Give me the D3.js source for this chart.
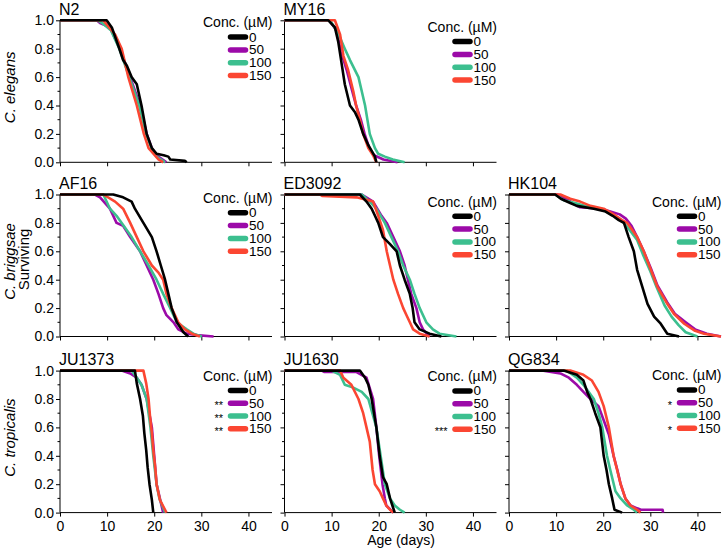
<!DOCTYPE html>
<html><head><meta charset="utf-8">
<script src="https://cdn.jsdelivr.net/npm/d3@7/dist/d3.min.js"></script>
<style>
body{margin:0;background:#fff}
svg{display:block}
text{font-family:"Liberation Sans",Arial,Helvetica,sans-serif;fill:#000}
</style>
</head><body>
<svg id="chart" width="727" height="554"></svg>
<script>
// ---------- data ----------
const concentrations = ["0", "50", "100", "150"];
const strains = ["N2", "MY16", "AF16", "ED3092", "HK104", "JU1373", "JU1630", "QG834"];
const species = ["C. elegans", "C. briggsae", "C. tropicalis"];
const xTicks = [0, 10, 20, 30, 40];
const yTicks = [0.0, 0.2, 0.4, 0.6, 0.8, 1.0];
const xLabel = "Age (days)";
const yLabel = "Surviving";
const legendTitle = "Conc. (\u00b5M)";

// [day, fraction surviving]
const N2_0   = [[0,1],[9.9,1],[11,0.95],[12.6,0.8],[13.4,0.72],[14.2,0.68],[15.2,0.6],[16.3,0.55],[17.3,0.4],[18.4,0.2],[19.5,0.1],[20.5,0.06],[22,0.05],[23,0.04],[23.4,0.02],[26.5,0.01],[26.9,0]];
const N2_50  = [[0,1],[7.8,1],[8.5,0.98],[10.6,0.95],[12.7,0.8],[14.9,0.6],[17,0.4],[18.4,0.2],[19.5,0.1],[20.5,0.05],[22.6,0]];
const N2_100 = [[0,1],[8,1],[9,0.98],[10.8,0.93],[12.6,0.8],[14.7,0.6],[16.8,0.4],[18.3,0.2],[19.4,0.1],[20.5,0.04],[22.3,0]];
const N2_150 = [[0,1],[9.2,1],[11.7,0.9],[13.1,0.8],[14.5,0.6],[16.3,0.4],[17.8,0.2],[18.8,0.1],[20.9,0.02],[21.9,0]];

const MY16_0   = [[0,1],[9.3,1],[10.7,0.95],[11.4,0.85],[12.1,0.7],[12.8,0.55],[13.9,0.4],[15,0.35],[15.7,0.3],[16.7,0.2],[17.8,0.12],[18.5,0.08],[19.2,0.04],[19.5,0]];
const MY16_50  = [[0,1],[9.5,1],[11,0.93],[12,0.78],[13.2,0.65],[14.4,0.5],[15.2,0.4],[16.2,0.3],[17,0.2],[18,0.1],[19,0.05],[21,0.02],[24,0]];
const MY16_100 = [[0,1],[9.7,1],[11.5,0.9],[12.8,0.8],[13.9,0.72],[15.7,0.6],[16.4,0.5],[17.1,0.4],[18.1,0.2],[19.2,0.1],[19.9,0.06],[21.3,0.04],[23,0.02],[25.5,0]];
const MY16_150 = [[0,1],[10.7,1],[11.8,0.9],[12.5,0.75],[13.5,0.65],[14.6,0.5],[15.2,0.4],[16,0.3],[16.7,0.2],[17.8,0.1],[18.8,0.05],[19.5,0]];

const AF16_0   = [[0,1],[11.3,1],[13.4,0.98],[15.2,0.95],[15.9,0.9],[17.7,0.8],[19.5,0.7],[20.5,0.6],[21.4,0.5],[22.3,0.4],[23,0.3],[23.7,0.2],[24.8,0.1],[26.2,0.03],[27.2,0]];
const AF16_50  = [[0,1],[7.4,1],[8.5,0.98],[10.6,0.9],[12,0.8],[13.4,0.78],[14.9,0.7],[17,0.6],[18.4,0.5],[19.8,0.4],[20.9,0.3],[21.9,0.2],[22.6,0.15],[24.1,0.1],[25.1,0.05],[26.9,0.02],[29,0.01],[32.6,0]];
const AF16_100 = [[0,1],[9.2,1],[10.6,0.9],[12,0.85],[13.1,0.8],[15.2,0.7],[17,0.6],[18.8,0.5],[20.5,0.4],[21.9,0.3],[23.4,0.2],[24.8,0.1],[26.9,0.05],[28.3,0.02],[30.1,0]];
const AF16_150 = [[0,1],[9.2,1],[11.7,0.95],[13.4,0.9],[14.9,0.8],[16.3,0.7],[17.7,0.6],[19.5,0.5],[20.9,0.45],[21.9,0.4],[22.6,0.3],[23.7,0.2],[25.1,0.1],[26.5,0.05],[28,0.02],[29.7,0]];

const ED3092_0   = [[0,1],[16,1],[17.4,0.95],[18.5,0.9],[19.2,0.85],[19.9,0.8],[20.9,0.7],[22.4,0.65],[23.8,0.6],[24.5,0.5],[25.5,0.4],[26.6,0.3],[27.2,0.2],[27.6,0.1],[28.7,0.05],[30.8,0.02],[33.3,0]];
const ED3092_50  = [[0,1],[16.4,1],[18.8,0.95],[20.6,0.85],[21.7,0.8],[23.1,0.7],[24.5,0.6],[25.5,0.5],[26.2,0.4],[26.9,0.3],[28,0.2],[28.7,0.1],[29.4,0.05],[30.8,0]];
const ED3092_100 = [[0,1],[16.4,1],[18.1,0.95],[19.5,0.9],[21.3,0.8],[22.7,0.7],[24.1,0.6],[25.2,0.5],[26.6,0.4],[27.6,0.3],[28.7,0.2],[30.1,0.1],[31.5,0.05],[32.9,0.02],[36.5,0]];
const ED3092_150 = [[0,1],[7.5,1],[8,0.99],[15.3,0.98],[18.8,0.95],[19.9,0.85],[20.9,0.75],[21.7,0.6],[22.4,0.5],[23.1,0.4],[24.1,0.3],[25.2,0.2],[25.9,0.15],[26.6,0.1],[27.3,0.05],[28.7,0.02],[30.8,0]];

const HK104_0   = [[0,1],[9.8,1],[11,0.97],[13,0.94],[14.4,0.92],[18,0.9],[20.5,0.88],[22,0.85],[23.3,0.82],[24.4,0.8],[25.4,0.7],[26.5,0.6],[27.2,0.47],[28.3,0.35],[29.4,0.23],[30.8,0.14],[32.2,0.09],[33.6,0.02],[36.1,0]];
const HK104_50  = [[0,1],[10.2,1],[12.3,0.97],[13.5,0.94],[15.1,0.91],[19.5,0.9],[21.5,0.88],[23.5,0.86],[24.8,0.83],[26,0.78],[27.2,0.7],[28.6,0.6],[30.1,0.48],[31.5,0.36],[33.6,0.24],[35.2,0.16],[37.5,0.1],[39.5,0.05],[42,0.02],[45,0]];
const HK104_100 = [[0,1],[9.8,1],[11.6,0.96],[14,0.94],[16,0.92],[20,0.89],[22.5,0.85],[24.4,0.8],[25.6,0.75],[27.2,0.68],[28.4,0.58],[30,0.46],[31.3,0.35],[33,0.22],[34.5,0.14],[36,0.08],[37.5,0.03],[40,0]];
const HK104_150 = [[0,1],[10.9,1],[13,0.97],[15.1,0.95],[17.3,0.92],[20.1,0.9],[22.2,0.86],[24,0.82],[25.1,0.8],[27.2,0.7],[28.6,0.6],[30.1,0.47],[31.5,0.35],[33.6,0.23],[35,0.16],[37.2,0.09],[39.5,0.04],[41.4,0.02],[45,0]];

const JU1373_0   = [[0,1],[15.9,1],[16.3,0.91],[17,0.8],[17.6,0.68],[17.9,0.56],[18.3,0.44],[18.6,0.32],[19,0.2],[19.5,0.09],[19.8,0]];
const JU1373_50  = [[0,1],[13.1,1],[14.9,0.98],[16.3,0.95],[17.3,0.9],[18.4,0.8],[19.5,0.6],[20,0.4],[20.5,0.2],[21.2,0.1],[21.9,0]];
const JU1373_100 = [[0,1],[15.2,1],[16.3,0.95],[17.3,0.9],[18.4,0.8],[19.2,0.6],[19.8,0.4],[20.5,0.2],[21.1,0.1],[22.3,0]];
const JU1373_150 = [[0,1],[17.7,1],[18.3,0.91],[18.8,0.8],[19.1,0.68],[19.5,0.56],[19.8,0.44],[20.2,0.32],[20.5,0.2],[21.2,0.09],[22.6,0]];

const JU1630_0   = [[0,1],[16,1],[17.1,0.95],[17.8,0.9],[18.5,0.8],[19.5,0.6],[20.2,0.4],[20.9,0.25],[21.7,0.2],[22.4,0.1],[22.9,0.05],[23.4,0]];
const JU1630_50  = [[0,1],[7.9,1],[8.5,0.99],[15.3,0.99],[17.4,0.95],[18.8,0.8],[19.5,0.6],[20.1,0.4],[20.8,0.2],[21.3,0.1],[21.6,0.05],[23.1,0]];
const JU1630_100 = [[0,1],[10,1],[11.8,0.97],[12.8,0.9],[14.6,0.88],[16.4,0.85],[17.8,0.8],[19.5,0.6],[20.4,0.4],[21.3,0.2],[22.4,0.1],[23.4,0.05],[24.5,0.02],[25.5,0]];
const JU1630_150 = [[0,1],[11.8,1],[12.5,0.95],[14.2,0.9],[15.7,0.8],[16.7,0.7],[17.4,0.6],[18.1,0.5],[18.7,0.3],[19.2,0.2],[20.2,0.15],[20.9,0.1],[21.6,0.05],[22.4,0.02],[23.1,0]];

const QG834_0   = [[0,1],[11.6,1],[14.4,0.97],[15.8,0.93],[16.6,0.85],[17.3,0.8],[18.3,0.7],[19.4,0.6],[20.1,0.4],[20.7,0.3],[21.2,0.2],[21.9,0.1],[22.4,0.02],[24,0]];
const QG834_50  = [[0,1],[7.3,1],[10.9,0.98],[12.7,0.95],[14.4,0.9],[15.8,0.85],[17.3,0.8],[19,0.75],[20.1,0.65],[21.2,0.55],[22.2,0.4],[23,0.3],[23.7,0.2],[24.7,0.1],[25.8,0.05],[27.2,0.03],[28,0.02],[32.6,0.02],[32.7,0]];
const QG834_100 = [[0,1],[12.3,1],[14.4,0.95],[15.8,0.9],[18,0.8],[19,0.7],[19.8,0.6],[20.8,0.4],[21.5,0.3],[22.6,0.15],[23.7,0.1],[25.1,0.05],[26.5,0.02],[27.2,0]];
const QG834_150 = [[0,1],[13,1],[15.8,0.97],[17.6,0.93],[19,0.85],[20.1,0.75],[21.2,0.6],[22.2,0.4],[23.7,0.2],[24.7,0.1],[25.8,0.05],[27.2,0.02],[27.9,0]];

// significance marks next to legend entries
const JU1373_stars = ["", "**", "**", "**"];
const JU1630_stars = ["", "", "", "***"];
const QG834_stars  = ["", "*", "", "*"];

// ---------- table built from the arrays ----------
const panels = [
  {name:"N2",     series:[N2_0,N2_50,N2_100,N2_150],             stars:["","","",""]},
  {name:"MY16",   series:[MY16_0,MY16_50,MY16_100,MY16_150],     stars:["","","",""]},
  {name:"AF16",   series:[AF16_0,AF16_50,AF16_100,AF16_150],     stars:["","","",""]},
  {name:"ED3092", series:[ED3092_0,ED3092_50,ED3092_100,ED3092_150], stars:["","","",""]},
  {name:"HK104",  series:[HK104_0,HK104_50,HK104_100,HK104_150], stars:["","","",""]},
  {name:"JU1373", series:[JU1373_0,JU1373_50,JU1373_100,JU1373_150], stars:JU1373_stars},
  {name:"JU1630", series:[JU1630_0,JU1630_50,JU1630_100,JU1630_150], stars:JU1630_stars},
  {name:"QG834",  series:[QG834_0,QG834_50,QG834_100,QG834_150], stars:QG834_stars}
];

// ---------- layout & style ----------
const colors = ["#000000", "#9c0aa8", "#3cbf8f", "#fb4632"];
const drawOrder = [1, 2, 3, 0];
const layout = {
  N2:{row:0,col:0,leg:2}, MY16:{row:0,col:1,leg:6.5},
  AF16:{row:1,col:0,leg:3.5}, ED3092:{row:1,col:1,leg:7}, HK104:{row:1,col:2,leg:7},
  JU1373:{row:2,col:0,leg:5}, JU1630:{row:2,col:1,leg:5.5}, QG834:{row:2,col:2,leg:4.5}
};
const colX = [60, 284.5, 509];
const rowTop = [20.3, 194.5, 370.6];
const PW = 212, PH = 142;

const svg = d3.select("#chart");

panels.forEach(p => {
  const L = layout[p.name];
  const x0 = colX[L.col], y0 = rowTop[L.row];
  const x = d3.scaleLinear().domain([0, 45]).range([x0, x0 + PW]);
  const y = d3.scaleLinear().domain([0, 1]).range([y0 + PH, y0]);
  const g = svg.append("g");

  // y axis
  const yAxis = d3.axisLeft(y).tickValues(yTicks).tickSize(4).tickPadding(2)
    .tickFormat(L.col === 0 ? d3.format(".1f") : () => "");
  const ya = g.append("g").attr("transform", `translate(${x0},0)`).call(yAxis);
  ya.select(".domain").attr("d", `M0,${y(1)}V${y(0)}`);
  // minor ticks
  g.append("g").selectAll("line").data([0.1,0.3,0.5,0.7,0.9]).join("line")
    .attr("x1", x0 - 2.5).attr("x2", x0).attr("y1", d => y(d)).attr("y2", d => y(d))
    .attr("stroke", "#000");

  // x axis
  const xAxis = d3.axisBottom(x).tickValues(xTicks).tickSize(4).tickPadding(4)
    .tickFormat(L.row === 2 ? d3.format("d") : () => "");
  const xa = g.append("g").attr("transform", `translate(0,${y0 + PH})`).call(xAxis);
  xa.select(".domain").attr("d", `M${x0},0H${x0 + PW}`);

  [ya, xa].forEach(a => {
    a.selectAll("text").style("font-size", "14px").style("font-family", '"Liberation Sans",Arial,sans-serif');
    a.selectAll("line,path").attr("stroke", "#000").attr("stroke-width", 1);
  });

  // curves
  const line = d3.line().x(d => x(d[0])).y(d => y(d[1]));
  drawOrder.forEach(i => {
    g.append("path").attr("d", line(p.series[i]))
      .attr("fill", "none").attr("stroke", colors[i])
      .attr("stroke-width", 2.6).attr("stroke-linejoin", "round");
  });

  // panel title
  g.append("text").attr("x", x0 - 1).attr("y", y0 - 5.5)
    .style("font-size", "16px").text(p.name);

  // legend
  const right = x0 + PW;
  const ly = y0 + L.leg;
  g.append("text").attr("x", right + 0.5).attr("y", ly)
    .attr("text-anchor", "end").attr("dominant-baseline", "central")
    .style("font-size", "14px").text(legendTitle);
  concentrations.forEach((c, i) => {
    const iy = ly + 14.8 + i * 12.8;
    g.append("line").attr("x1", right - 41.5).attr("x2", right - 26.5)
      .attr("y1", iy).attr("y2", iy)
      .attr("stroke", colors[i]).attr("stroke-width", 5.5).attr("stroke-linecap", "round");
    g.append("text").attr("x", right - 23).attr("y", iy)
      .attr("dominant-baseline", "central").style("font-size", "13.5px").text(c);
    if (p.stars[i]) {
      g.append("text").attr("x", right - 49).attr("y", iy + 6)
        .attr("text-anchor", "end").attr("fill", "#000")
        .style("font-size", "11px").style("fill", "#000").text(p.stars[i]);
    }
  });
});

// row labels
species.forEach((s, r) => {
  const cy = rowTop[r] + PH / 2 - 4;
  svg.append("text").attr("transform", `translate(15,${cy}) rotate(-90)`)
    .attr("text-anchor", "middle").style("font-size", "15px").style("font-style", "italic")
    .text(s);
});
svg.append("text").attr("transform", `translate(29,${rowTop[1] + PH / 2 - 6}) rotate(-90)`)
  .attr("text-anchor", "middle").style("font-size", "15px").text(yLabel);

// x label
svg.append("text").attr("x", 401).attr("y", 545)
  .attr("text-anchor", "middle").style("font-size", "14px").text(xLabel);
</script>
</body></html>
